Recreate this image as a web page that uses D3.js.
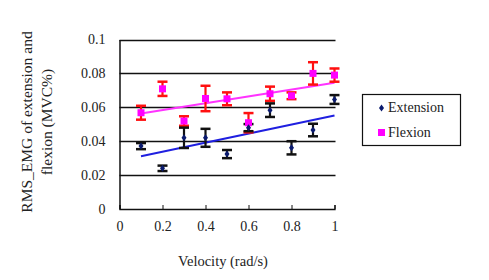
<!DOCTYPE html>
<html><head><meta charset="utf-8">
<script src="https://cdn.jsdelivr.net/npm/d3@7"></script>
</head><body style="margin:0;background:#fff">
<svg id="c" width="489" height="280" style="display:block"></svg>
<script>
const velocity = [0.1,0.2,0.3,0.4,0.5,0.6,0.7,0.8,0.9,1.0];
const extension = [0.0371,0.0240,0.0420,0.0420,0.0324,0.0480,0.0583,0.0361,0.0466,0.0646];
const extensionErr = [0.0018,0.0016,0.0060,0.0053,0.0024,0.0021,0.0040,0.0039,0.0037,0.0026];
const flexion = [0.0568,0.0709,0.0519,0.0652,0.0650,0.0509,0.0680,0.0668,0.0800,0.0790];
const flexionErr = [0.0041,0.0042,0.0028,0.0075,0.0038,0.0057,0.0042,0.0020,0.0066,0.0039];
const xTicks = [0,0.2,0.4,0.6,0.8,1];
const yTicks = [0,0.02,0.04,0.06,0.08,0.1];

const svg = d3.select("#c");
const x = d3.scaleLinear().domain([0,1]).range([119.5,334.5]);
const y = d3.scaleLinear().domain([0,0.1]).range([209,39.5]);

// gridlines
svg.append("g").selectAll("line").data(yTicks.slice(1)).join("line")
  .attr("x1",x(0)).attr("x2",x(1)+1).attr("y1",d=>Math.round(y(d))+0.5).attr("y2",d=>Math.round(y(d))+0.5)
  .attr("stroke","#111").attr("stroke-width",1.3);

// axes
const xAxis = d3.axisBottom(x).tickValues(xTicks).tickSize(-4).tickPadding(12).tickFormat(d=>d3.format("")(d));
const gx = svg.append("g").attr("transform",`translate(0,${y(0)})`).call(xAxis);
gx.attr("font-family",null).attr("font-size",null);
gx.select(".domain").attr("stroke","#111").attr("stroke-width",1.3);
gx.selectAll(".tick line").attr("stroke","#111");

const yAxis = d3.axisLeft(y).tickValues(yTicks).tickSize(0).tickPadding(14).tickFormat(d=>d3.format("")(d));
const gy = svg.append("g").attr("transform",`translate(${x(0)},0)`).call(yAxis);
gy.attr("font-family",null).attr("font-size",null);
gy.select(".domain").attr("stroke","#111").attr("stroke-width",1.5);

// axis titles
svg.append("text").attr("x",223).attr("y",266).attr("text-anchor","middle").attr("font-size",14.5).text("Velocity (rad/s)");
const yt = svg.append("text").attr("text-anchor","middle").attr("font-size",15.5);
yt.append("tspan").attr("x",-122).attr("y",32).text("RMS_EMG of extension and");
yt.append("tspan").attr("x",-122).attr("y",52).text("flexion (MVC%)");
yt.attr("transform","rotate(-90)");

// regression
function fit(xs, ys){
  const mx=d3.mean(xs), my=d3.mean(ys);
  let sxy=0,sxx=0; xs.forEach((v,i)=>{sxy+=(v-mx)*(ys[i]-my); sxx+=(v-mx)*(v-mx);});
  const b=sxy/sxx, a=my-b*mx; return v=>a+b*v;
}
const fe = fit(velocity, extension), ff = fit(velocity, flexion);
const xr=[d3.min(velocity), d3.max(velocity)];
svg.append("line").attr("x1",x(xr[0])).attr("x2",x(xr[1])).attr("y1",y(fe(xr[0]))).attr("y2",y(fe(xr[1])))
  .attr("stroke","#1f1fe0").attr("stroke-width",2);
svg.append("line").attr("x1",x(xr[0])).attr("x2",x(xr[1])).attr("y1",y(ff(xr[0]))).attr("y2",y(ff(xr[1])))
  .attr("stroke","#ff33ff").attr("stroke-width",2);

function errBars(vals, errs, color){
  const g = svg.append("g").attr("stroke",color).attr("stroke-width",2.2);
  velocity.forEach((v,i)=>{
    const cx=x(v), t=y(vals[i]+errs[i]), b=y(vals[i]-errs[i]);
    g.append("line").attr("x1",cx).attr("x2",cx).attr("y1",t).attr("y2",b);
    g.append("line").attr("x1",cx-5).attr("x2",cx+5).attr("y1",t).attr("y2",t).attr("stroke-width",2.5);
    g.append("line").attr("x1",cx-5).attr("x2",cx+5).attr("y1",b).attr("y2",b).attr("stroke-width",2.5);
  });
}
errBars(flexion, flexionErr, "#ff1010");
errBars(extension, extensionErr, "#111");

svg.append("g").selectAll("rect").data(flexion).join("rect")
  .attr("x",(d,i)=>x(velocity[i])-3.5).attr("y",d=>y(d)-3.5).attr("width",7).attr("height",7).attr("fill","#ff00ff");
svg.append("g").selectAll("path").data(extension).join("path")
  .attr("d",(d,i)=>{const cx=x(velocity[i]),cy=y(d);return `M${cx},${cy-3.5}L${cx+2.5},${cy}L${cx},${cy+3.5}L${cx-2.5},${cy}Z`;})
  .attr("fill","#0a1a6e");

// legend
const lg = svg.append("g");
lg.append("rect").attr("x",362.5).attr("y",94.5).attr("width",98).attr("height",51).attr("fill","#fff").attr("stroke","#111").attr("stroke-width",1.2);
lg.append("path").attr("d","M381.5,104.5L384,108L381.5,111.5L379,108Z").attr("fill","#0a1a6e");
lg.append("text").attr("x",388).attr("y",112).attr("font-size",14).text("Extension");
lg.append("rect").attr("x",378).attr("y",129).attr("width",7).attr("height",7).attr("fill","#ff00ff");
lg.append("text").attr("x",388).attr("y",137).attr("font-size",14).text("Flexion");

// apply serif font directly to every text element
svg.selectAll("text")
  .attr("font-family","Liberation Serif")
  .style("font-family","'Liberation Serif', serif")
  .attr("fill","#222");
svg.selectAll("g.tick text").attr("font-size",14);
</script>
</body></html>
